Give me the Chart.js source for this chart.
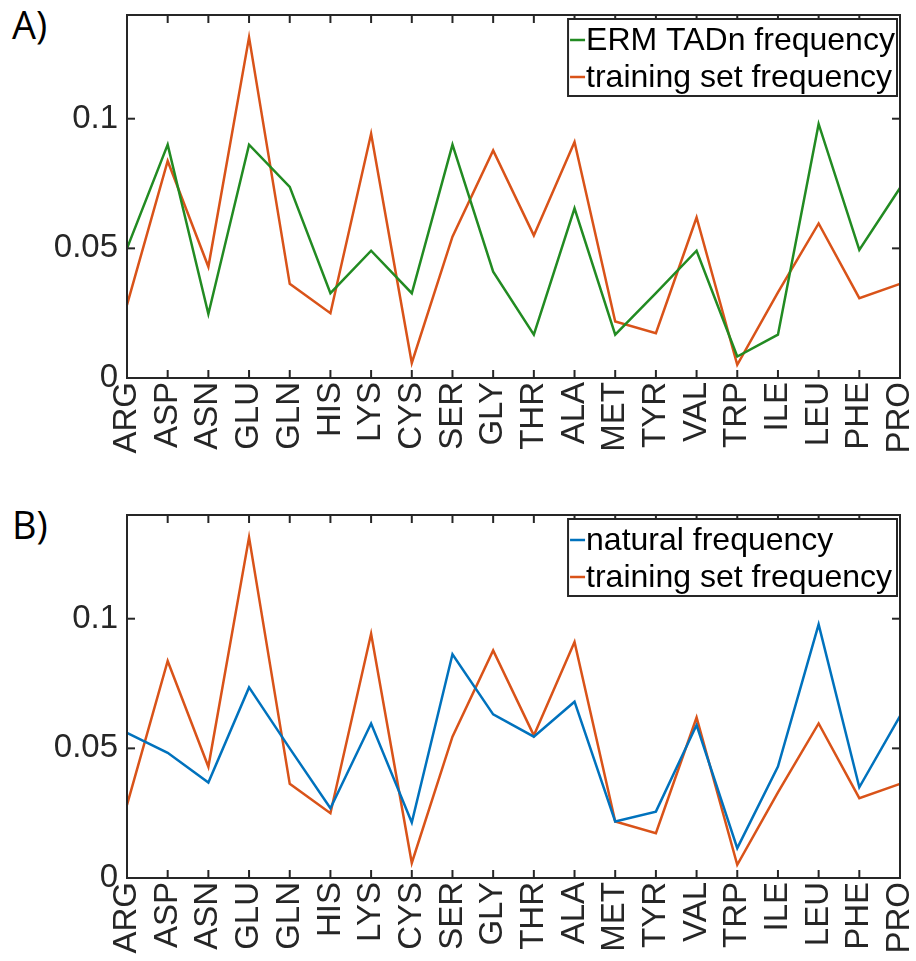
<!DOCTYPE html>
<html>
<head>
<meta charset="utf-8">
<script src="https://cdn.jsdelivr.net/npm/chart.js@4"></script>
<style>
  body { margin: 0; background: #fff; width: 916px; height: 961px; position: relative; overflow: hidden; }
  canvas { position: absolute; left: 0; }
  .panel { position: absolute; left: 12px; font-family: "Open Sans", sans-serif; font-size: 38px; color: #000; line-height: 1; }
</style>
</head>
<body>
<div class="panel" style="top:5px">A)</div>
<div class="panel" style="top:505px">B)</div>
<canvas id="chartA" width="916" height="480" style="top:0"></canvas>
<canvas id="chartB" width="916" height="481" style="top:480px"></canvas>
<script>
// amino acids on the x axis
const aminoAcids = ['ARG', 'ASP', 'ASN', 'GLU', 'GLN', 'HIS', 'LYS', 'CYS', 'SER', 'GLY',
  'THR', 'ALA', 'MET', 'TYR', 'VAL', 'TRP', 'ILE', 'LEU', 'PHE', 'PRO'];

const ermTadnFreq = [0.050, 0.090, 0.0247, 0.090, 0.0737, 0.0327, 0.0491, 0.0327, 0.090, 0.041,
  0.0167, 0.0654, 0.0167, 0.0327, 0.0491, 0.0083, 0.0167, 0.098, 0.0494, 0.0733];

const trainingFreq = [0.0282, 0.0837, 0.0429, 0.1314, 0.0363, 0.025, 0.0942, 0.0058, 0.0545, 0.0878,
  0.055, 0.091, 0.0218, 0.0173, 0.0619, 0.0051, 0.033, 0.0596, 0.0308, 0.0363];

const naturalFreq = [0.056, 0.0483, 0.0368, 0.0735, 0.050, 0.0269, 0.0596, 0.0214, 0.0863, 0.0631,
  0.0545, 0.068, 0.0218, 0.0256, 0.059, 0.0115, 0.043, 0.0978, 0.035, 0.0624];

const yTicks = [0, 0.05, 0.1];

const GREEN = '#228B22', ORANGE = '#D95319', BLUE = '#0072BD', AXIS = '#262626';
const FONT = '"Liberation Sans", Helvetica, Arial, sans-serif';

// matlab style box, inward ticks and boxed legend
const boxPlugin = {
  id: 'box',
  afterDraw(chart) {
    const { ctx, chartArea: a, scales: { x, y } } = chart;
    const tl = 8;
    ctx.save();
    ctx.strokeStyle = AXIS;
    ctx.lineWidth = 2;
    const line = (x1, y1, x2, y2) => { ctx.beginPath(); ctx.moveTo(x1, y1); ctx.lineTo(x2, y2); ctx.stroke(); };
    x.ticks.forEach((t, i) => {
      const px = x.getPixelForTick(i);
      line(px, a.bottom, px, a.bottom - tl);
      line(px, a.top, px, a.top + tl);
    });
    y.ticks.forEach((t, i) => {
      const py = y.getPixelForTick(i);
      line(a.left, py, a.left + tl, py);
      line(a.right, py, a.right - tl, py);
    });
    ctx.strokeRect(a.left, a.top, a.width, a.height);

    // legend
    ctx.font = '32px ' + FONT;
    const sets = chart.data.datasets;
    const tw = ctx.measureText('training set frequency').width;
    const w = 18 + tw + 5, h = 77;
    const bx = a.right - 3 - w, by = a.top + 4;
    ctx.fillStyle = '#fff';
    ctx.fillRect(bx, by, w, h);
    ctx.strokeRect(bx, by, w, h);
    ctx.textBaseline = 'middle';
    ctx.lineWidth = 2.5;
    sets.forEach((d, i) => {
      const ry = by + 21 + i * 37;
      ctx.strokeStyle = d.borderColor;
      line(bx + 2, ry, bx + 17, ry);
      ctx.fillStyle = '#000';
      ctx.fillText(d.label, bx + 18, ry + 1);
    });
    ctx.restore();
  }
};

function makeChart(id, datasets, topPad, xHeight) {
  return new Chart(document.getElementById(id), {
    type: 'line',
    data: {
      labels: aminoAcids,
      datasets: datasets.map(d => ({
        label: d.label, data: d.data, borderColor: d.color,
        borderWidth: 2.5, pointRadius: 0, tension: 0, fill: false
      }))
    },
    options: {
      responsive: false,
      animation: false,
      devicePixelRatio: 1,
      layout: { padding: { top: topPad, right: 16, left: 0, bottom: 0 } },
      plugins: { legend: { display: false }, tooltip: { enabled: false } },
      scales: {
        x: {
          offset: false,
          grid: { display: false, drawTicks: false },
          border: { display: false },
          ticks: { color: AXIS, font: { family: FONT, size: 33 }, minRotation: 90, maxRotation: 90, padding: 4, autoSkip: false },
          afterFit: s => { s.height = xHeight; s.paddingLeft = 0; s.paddingRight = 0; }
        },
        y: {
          min: 0, max: 0.14,
          grid: { display: false, drawTicks: false },
          border: { display: false },
          afterBuildTicks: s => { s.ticks = yTicks.map(v => ({ value: v })); },
          ticks: { color: AXIS, font: { family: FONT, size: 33 }, padding: 9, callback: v => String(v) },
          afterFit: s => { s.width = 127; s.paddingTop = 0; s.paddingBottom = 0; }
        }
      }
    },
    plugins: [boxPlugin]
  });
}

makeChart('chartA', [
  { label: 'ERM TADn frequency', data: ermTadnFreq, color: GREEN },
  { label: 'training set frequency', data: trainingFreq, color: ORANGE }
], 15, 102);

makeChart('chartB', [
  { label: 'natural frequency', data: naturalFreq, color: BLUE },
  { label: 'training set frequency', data: trainingFreq, color: ORANGE }
], 35, 83);
</script>
</body>
</html>
